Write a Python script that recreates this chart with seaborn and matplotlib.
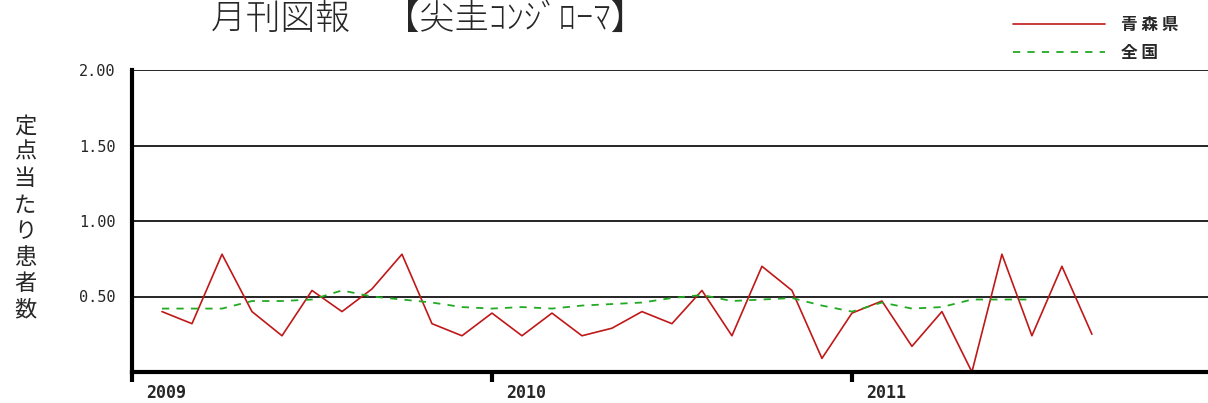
import numpy as np
import pandas as pd
import matplotlib
matplotlib.use("Agg")
import matplotlib.pyplot as plt
import matplotlib.transforms as mtransforms
import seaborn as sns

# ── Data (monthly, Jan 2009 .. ) ─────────────────────────────────────────────
aomori = [0.40, 0.32, 0.78, 0.40, 0.24, 0.54, 0.40, 0.55, 0.78, 0.32, 0.24, 0.39,
          0.24, 0.39, 0.24, 0.29, 0.40, 0.32, 0.54, 0.24, 0.70, 0.54, 0.09, 0.39,
          0.47, 0.17, 0.40, 0.00, 0.78, 0.24, 0.70, 0.25]
zenkoku = [0.42, 0.42, 0.42, 0.47, 0.47, 0.48, 0.54, 0.50, 0.48, 0.46, 0.43, 0.42,
           0.43, 0.42, 0.44, 0.45, 0.46, 0.49, 0.51, 0.47, 0.48, 0.49, 0.44, 0.40,
           0.46, 0.42, 0.43, 0.48, 0.48, 0.48]
year_labels = ["2009", "2010", "2011"]
y_ticks = [0.5, 1.0, 1.5, 2.0]

df_a = pd.DataFrame({"month": np.arange(1, len(aomori) + 1), "value": aomori})
df_z = pd.DataFrame({"month": np.arange(1, len(zenkoku) + 1), "value": zenkoku})

# ── Style ────────────────────────────────────────────────────────────────────
sns.set_style("white")
plt.rcParams['font.family'] = ['Noto Sans CJK JP', 'DejaVu Sans']

fig = plt.figure(figsize=(12.08, 4.03), dpi=100)
ax = fig.add_axes([132 / 1208, 31 / 403, 1076 / 1208, 302 / 403])

sns.lineplot(data=df_a, x="month", y="value", ax=ax, color="#c01818",
             linewidth=1.2, label="青 森 県")
sns.lineplot(data=df_z, x="month", y="value", ax=ax, color="#22aa22",
             linewidth=1.3, linestyle=(0, (4, 4)), label="全 国")

ax.set_xlim(0, 35.87)
ax.set_ylim(0, 2.0)

# grid lines at the y ticks
for v in y_ticks:
    ax.axhline(v, color="black", linewidth=1.2, zorder=0)

ax.set_yticks(y_ticks)
ax.set_yticklabels([f"{v:.2f}" for v in y_ticks], family="DejaVu Sans Mono",
                   fontsize=11)
ax.tick_params(axis="y", length=0, pad=12)

ax.set_xticks([12 * i for i in range(len(year_labels))])
ax.set_xticklabels(year_labels, family="DejaVu Sans Mono", fontsize=12,
                   fontweight="bold")
ax.tick_params(axis="x", bottom=True, direction="out", length=7, width=3,
               pad=2, color="black")
offset = mtransforms.ScaledTranslation(0.14, 0, fig.dpi_scale_trans)
for lab in ax.get_xticklabels():
    lab.set_horizontalalignment("left")
    lab.set_transform(lab.get_transform() + offset)

ax.set_xlabel("")
ax.set_ylabel("")
for side in ["top", "right"]:
    ax.spines[side].set_visible(False)
for side in ["left", "bottom"]:
    ax.spines[side].set_color("black")
    ax.spines[side].set_linewidth(3)

# vertical stacked y label
fig.text(25 / 1208, 1 - 218 / 403, "\n".join("定点当たり患者数"), ha="center",
         va="center", fontsize=16, linespacing=1.18)

# title
fig.text(428 / 1208, 1 - 19 / 403, "月刊図報　【尖圭ｺﾝｼﾞﾛｰﾏ】", ha="center",
         va="center", fontsize=25, fontweight="light")

# legend
leg = ax.legend(loc="upper left", bbox_to_anchor=(998 / 1208, 1 - 1 / 403),
                bbox_transform=fig.transFigure, frameon=False,
                prop={"size": 12, "weight": "bold"},
                handlelength=5.5, handletextpad=1.0, labelspacing=0.6)

fig.savefig("out.png", dpi=100)
